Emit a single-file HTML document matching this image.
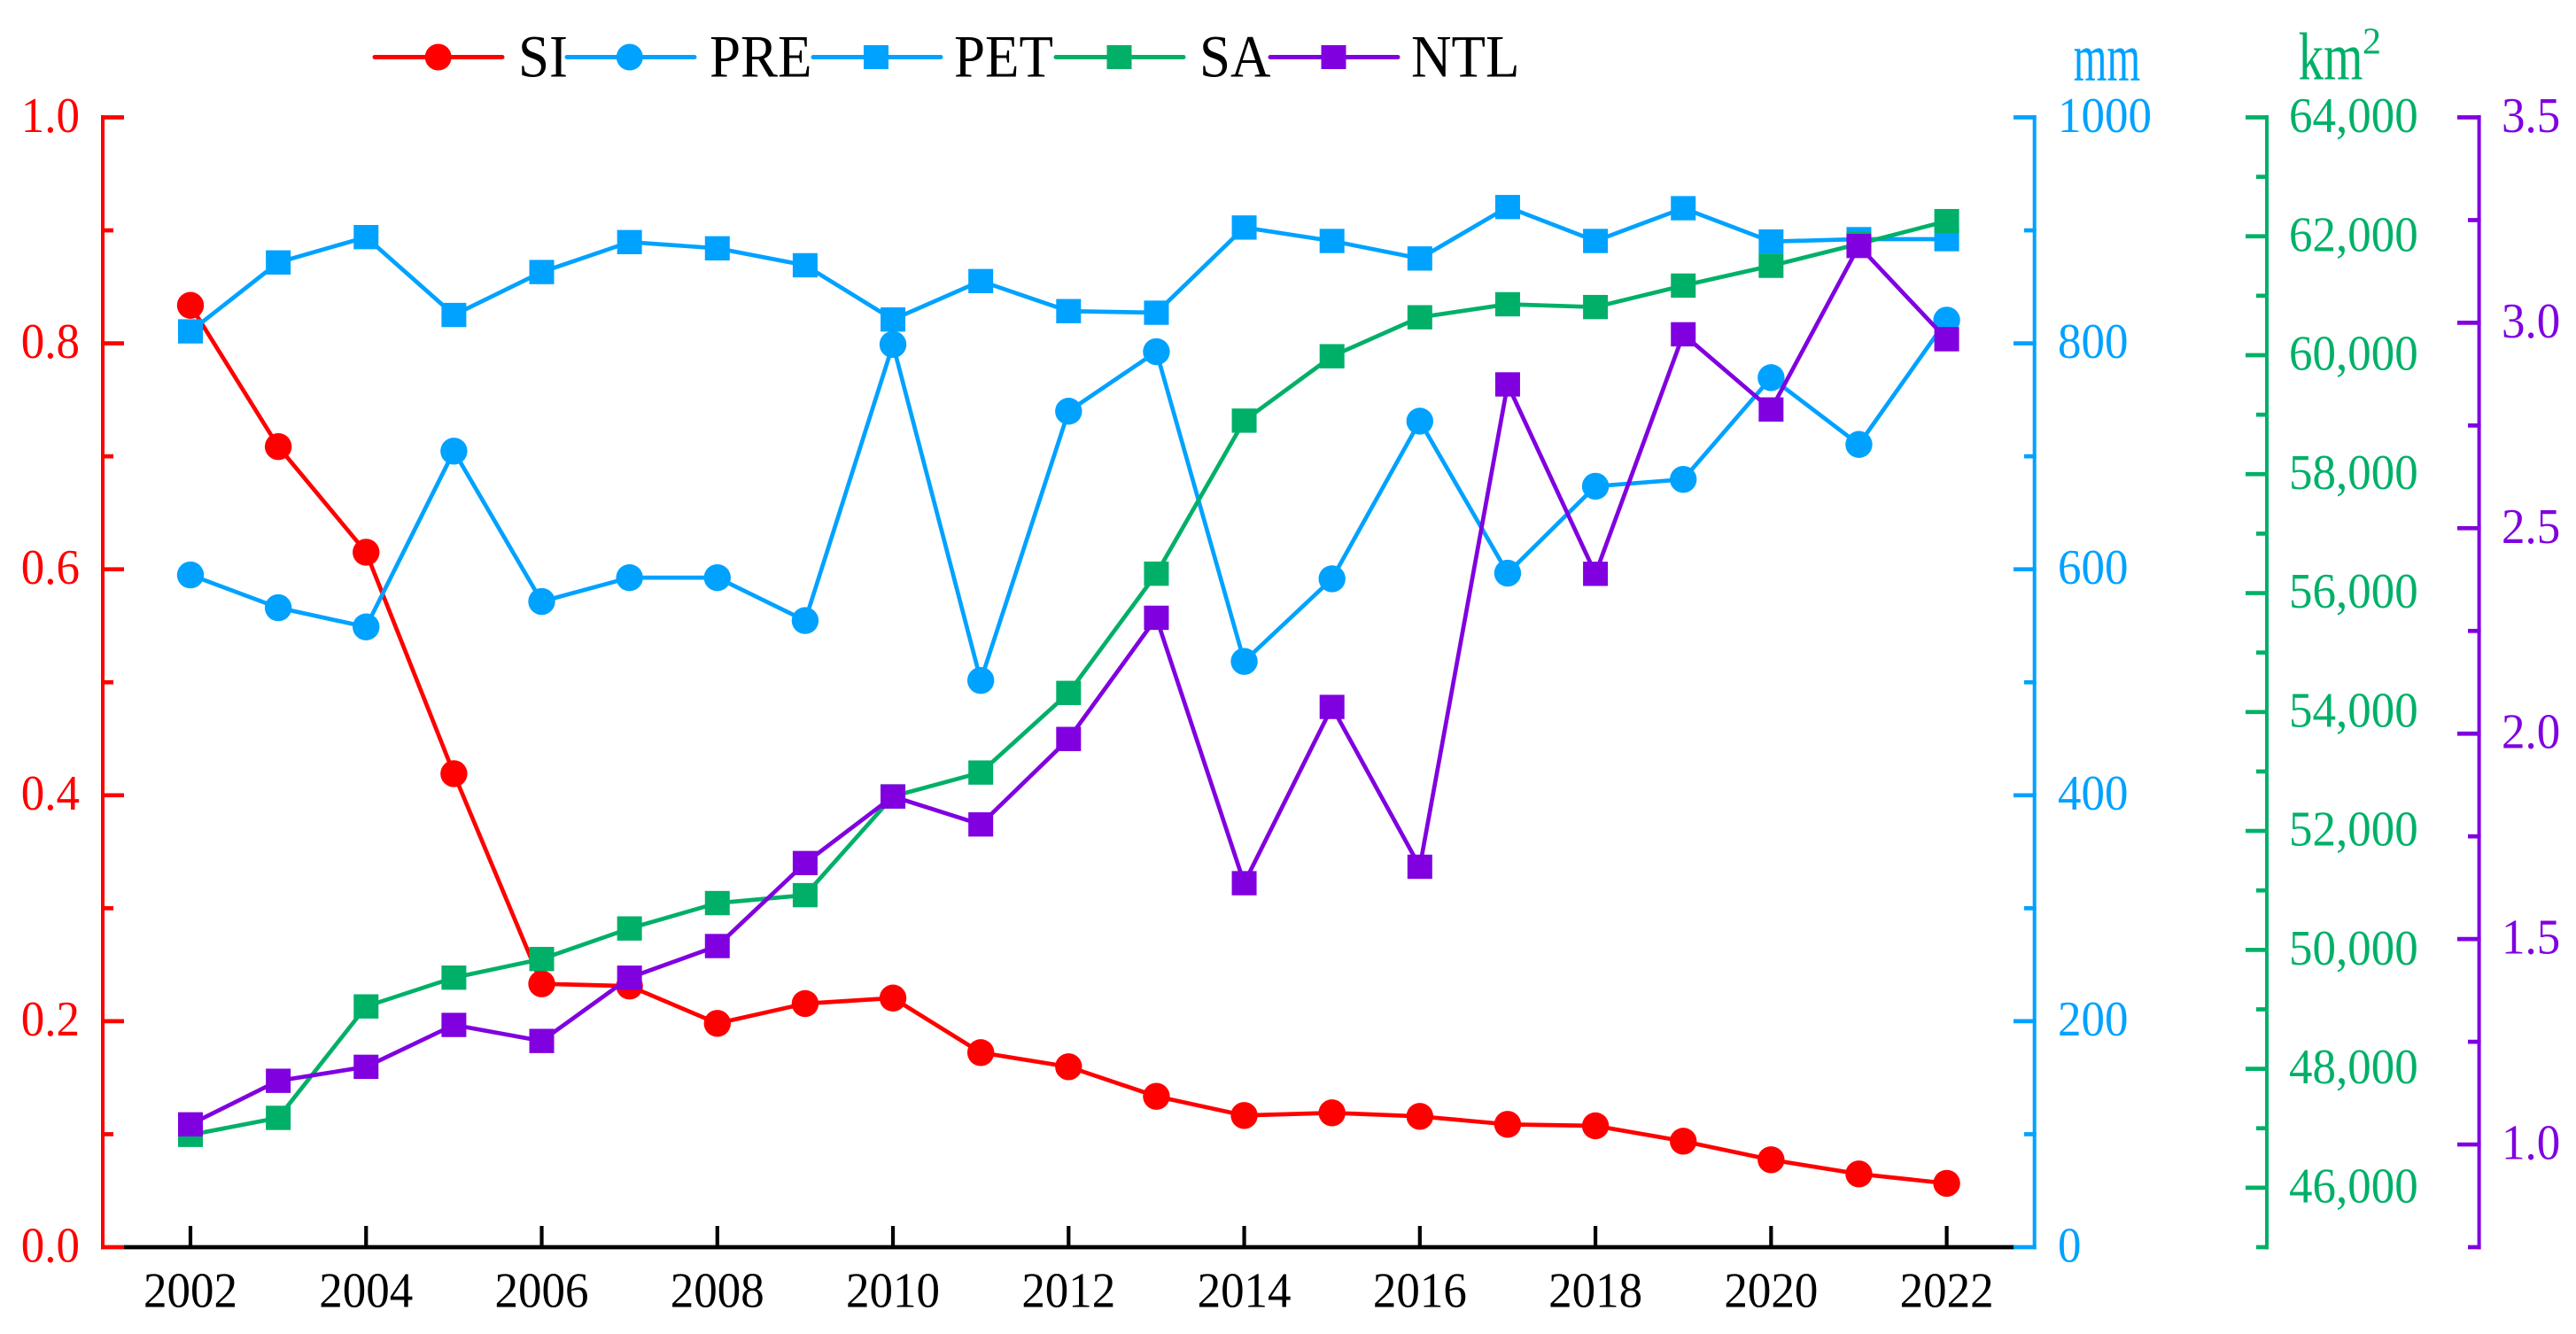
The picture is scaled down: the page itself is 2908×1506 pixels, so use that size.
<!DOCTYPE html>
<html lang="en">
<head>
<meta charset="utf-8">
<title>SI, PRE, PET, SA and NTL, 2002-2022</title>
<style>
html,body{margin:0;padding:0;background:#fff;}
#chart{display:block;position:absolute;left:0;top:0;font-family:"Liberation Serif","Times New Roman",serif;}
</style>
</head>
<body>
<svg id="chart" xmlns="http://www.w3.org/2000/svg" width="2908" height="1506" viewBox="0 0 2908 1506">
  <rect x="0" y="0" width="2908" height="1506" fill="#ffffff"/>
  <g id="axes"></g>
  <g id="series"></g>

  <text transform="translate(2340.8,90.8) scale(1,1.6)" font-size="48.5" fill="#00A2FF">mm</text>
  <text transform="translate(2594.6,89.3) scale(1,1.34)" font-size="57" fill="#00B068">km</text>
  <text transform="translate(2667,60.7)" font-size="42" fill="#00B068">2</text>

  <g font-size="63" fill="#000000">
    <g>
      <line x1="423" y1="64.5" x2="567" y2="64.5" stroke="#FF0000" stroke-width="5" stroke-linecap="round"/>
      <circle cx="494.7" cy="64.5" r="15" fill="#FF0000"/>
      <text transform="translate(585,86.5) scale(1,1.08)">SI</text>
    </g>
    <g>
      <line x1="640" y1="64.5" x2="784" y2="64.5" stroke="#00A2FF" stroke-width="5" stroke-linecap="round"/>
      <circle cx="710.8" cy="64.5" r="15" fill="#00A2FF"/>
      <text transform="translate(801,86.5) scale(1,1.08)">PRE</text>
    </g>
    <g>
      <line x1="918" y1="64.5" x2="1062" y2="64.5" stroke="#00A2FF" stroke-width="5" stroke-linecap="round"/>
      <rect x="975" y="51" width="28" height="27" fill="#00A2FF"/>
      <text transform="translate(1077,86.5) scale(1,1.08)">PET</text>
    </g>
    <g>
      <line x1="1192" y1="64.5" x2="1336" y2="64.5" stroke="#00B068" stroke-width="5" stroke-linecap="round"/>
      <rect x="1249.5" y="51" width="28" height="27" fill="#00B068"/>
      <text transform="translate(1354,86.5) scale(1,1.08)">SA</text>
    </g>
    <g>
      <line x1="1434" y1="64.5" x2="1578" y2="64.5" stroke="#8000E0" stroke-width="5" stroke-linecap="round"/>
      <rect x="1491.5" y="51" width="28" height="27" fill="#8000E0"/>
      <text transform="translate(1593,86.5) scale(1,1.08)">NTL</text>
    </g>
  </g>
</svg>
<script>
const years = [2002,2003,2004,2005,2006,2007,2008,2009,2010,2011,2012,2013,2014,2015,2016,2017,2018,2019,2020,2021,2022];
const siValues = [0.8336,0.7086,0.6151,0.4191,0.2331,0.2311,0.1981,0.2156,0.2205,0.1722,0.1597,0.1335,0.1166,0.1189,0.1158,0.1087,0.1074,0.0938,0.0774,0.0648,0.0565];
const preValues = [595,566,549,704.6,571.5,592.6,592.6,554.6,799,501.6,739.9,792.6,518.5,591.6,731.1,596.6,673.5,679.6,769.6,710.5,820.5];
const petValues = [810.6,871.6,894,825.1,863.1,889.6,884.1,869.1,821.1,855.1,828.5,827.1,902.5,890.6,875.1,920.6,890.6,919.6,890.1,892.2,892.2];
const saValues = [46889,47175,49049,49533,49846,50360,50787,50920,52582,52982,54321,56326,58900,59983,60638,60857,60810,61171,61504,61873,62255];
const ntlValues = [1.049,1.155,1.189,1.291,1.252,1.406,1.483,1.685,1.847,1.779,1.987,2.282,1.636,2.065,1.676,2.850,2.389,2.972,2.789,3.187,2.960];
const yearTicks = [2002,2004,2006,2008,2010,2012,2014,2016,2018,2020,2022];
const siTickLabels = ["0.0","0.2","0.4","0.6","0.8","1.0"];
const siMinorTicks = [0.1,0.3,0.5,0.7,0.9];
const mmTickLabels = ["0","200","400","600","800","1000"];
const mmMinorTicks = [100,300,500,700,900];
const saTickLabels = ["46,000","48,000","50,000","52,000","54,000","56,000","58,000","60,000","62,000","64,000"];
const saMinorTicks = [45000,47000,49000,51000,53000,55000,57000,59000,61000,63000];
const ntlTickLabels = ["1.0","1.5","2.0","2.5","3.0","3.5"];
const ntlMinorTicks = [0.75,1.25,1.75,2.25,2.75,3.25];

const NS = "http://www.w3.org/2000/svg";
const plotTop = 132.5, plotBottom = 1408;
const RED = "#FF0000", BLUE = "#00A2FF", GREEN = "#00B068", PURPLE = "#8000E0";
const axesG = document.getElementById("axes");
const seriesG = document.getElementById("series");

function xScale(year){ return 215 + (year - 2002) * 99.13; }
function linear(min, max){ return function(v){ return plotBottom - (v - min) / (max - min) * (plotBottom - plotTop); }; }
const ySI = linear(0, 1);
const yMM = linear(0, 1000);
const ySA = linear(45000, 64000);
const yNTL = linear(0.75, 3.5);

function mk(parent, tag, attrs){
  const el = document.createElementNS(NS, tag);
  for (const k in attrs) el.setAttribute(k, attrs[k]);
  parent.appendChild(el);
  return el;
}
function seg(x1, y1, x2, y2, color, w){
  return mk(axesG, "line", {x1:x1, y1:y1, x2:x2, y2:y2, stroke:color, "stroke-width":w});
}
function label(x, y, txt, color, anchor){
  const t = mk(axesG, "text", {transform:"translate(" + x + "," + y + ") scale(1,1.05)", fill:color, "font-size":53, "text-anchor":anchor});
  t.textContent = txt;
  return t;
}
function num(s){ return parseFloat(s.replace(/,/g, "")); }

/* x axis */
let el = seg(140, plotBottom, 2275, plotBottom, "#000000", 4.7);


yearTicks.forEach(function(yr){
  const x = xScale(yr);
  const tick = seg(x, 1384, x, plotBottom, "#000000", 4.2);
  
  
  const t = label(x, 1475.5, String(yr), "#000000", "middle");
  
  
});

/* SI axis (left) */
el = seg(116, plotTop - 2.35, 116, plotBottom + 2.35, RED, 4);


siTickLabels.forEach(function(s){
  const y = ySI(num(s));
  const tick = seg(114, y, 140, y, RED, 4.7);
  
  
  const t = label(90, y + 16.3, s, RED, "end");
  
  
});
siMinorTicks.forEach(function(v){
  const tick = seg(114, ySI(v), 128, ySI(v), RED, 4.7);
  
  
});

/* PRE / PET axis */
el = seg(2296.7, plotTop - 2.35, 2296.7, plotBottom + 2.35, BLUE, 4);


mmTickLabels.forEach(function(s){
  const y = yMM(num(s));
  const tick = seg(2273, y, 2298.7, y, BLUE, 4.7);
  
  
  const t = label(2323, y + 16.3, s, BLUE, "start");
  
  
});
mmMinorTicks.forEach(function(v){
  const tick = seg(2285, yMM(v), 2298.7, yMM(v), BLUE, 4.7);
  
  
});

/* SA axis */
el = seg(2559, plotTop - 2.35, 2559, plotBottom + 2.35, GREEN, 4);


saTickLabels.forEach(function(s){
  const y = ySA(num(s));
  const tick = seg(2535, y, 2561, y, GREEN, 4.7);
  
  
  const t = label(2584, y + 16.5, s, GREEN, "start");
  
  
});
saMinorTicks.forEach(function(v){
  const tick = seg(2547, ySA(v), 2561, ySA(v), GREEN, 4.7);
  
  
});

/* NTL axis */
el = seg(2798.6, plotTop - 2.35, 2798.6, plotBottom + 2.35, PURPLE, 4);


ntlTickLabels.forEach(function(s){
  const y = yNTL(num(s));
  const tick = seg(2774, y, 2800.6, y, PURPLE, 4.7);
  
  
  const t = label(2824, y + 16.5, s, PURPLE, "start");
  
  
});
ntlMinorTicks.forEach(function(v){
  const tick = seg(2786, yNTL(v), 2800.6, yNTL(v), PURPLE, 4.7);
  
  
});

/* series */
function drawSeries(values, yFn, color, shape, name){
  const g = mk(seriesG, "g", {});
  
  
  const pts = values.map(function(v, i){ return xScale(years[i]).toFixed(2) + "," + yFn(v).toFixed(2); }).join(" ");
  const line = mk(g, "polyline", {points:pts, fill:"none", stroke:color, "stroke-width":4.7, "stroke-linejoin":"round"});
  
  
  values.forEach(function(v, i){
    const cx = xScale(years[i]), cy = yFn(v);
    let m;
    if (shape === "circle") {
      m = mk(g, "circle", {cx:cx, cy:cy, r:15.2, fill:color});
    } else {
      m = mk(g, "rect", {x:cx - 14, y:cy - 13.7, width:28, height:27.4, fill:color});
    }
    
    
  });
}
drawSeries(siValues, ySI, RED, "circle", "si");
drawSeries(preValues, yMM, BLUE, "circle", "pre");
drawSeries(petValues, yMM, BLUE, "square", "pet");
drawSeries(saValues, ySA, GREEN, "square", "sa");
drawSeries(ntlValues, yNTL, PURPLE, "square", "ntl");
</script>
</body>
</html>
